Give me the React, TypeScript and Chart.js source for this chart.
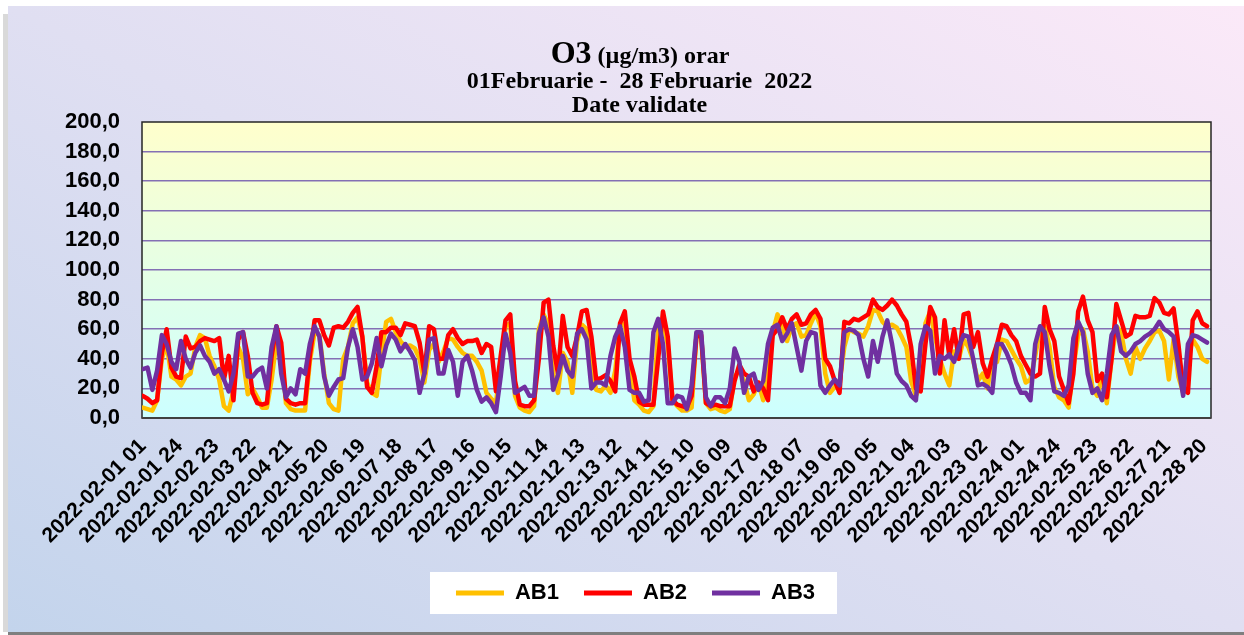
import React, { useEffect, useRef } from 'react';
import { Chart, registerables } from 'chart.js';

Chart.register(...registerables);

// ---------- data ----------
const SERIES_NAMES = ['AB1', 'AB2', 'AB3'];
const SERIES_COLORS = ['#FFC000', '#FF0000', '#7030A0'];
const TITLE_MAIN = 'O3';
const TITLE_UNIT = '(µg/m3) orar';
const TITLE_LINES = ['01Februarie -  28 Februarie  2022', 'Date validate'];

const HOURS_TOTAL = 672; // 28 days x 24 h
const STEP_HOURS = 3; // values read every 3 hours
const TICK_EVERY = 23;
const TICK_LABELS = [
  '2022-02-01 01', '2022-02-01 24', '2022-02-02 23', '2022-02-03 22', '2022-02-04 21',
  '2022-02-05 20', '2022-02-06 19', '2022-02-07 18', '2022-02-08 17', '2022-02-09 16',
  '2022-02-10 15', '2022-02-11 14', '2022-02-12 13', '2022-02-13 12', '2022-02-14 11',
  '2022-02-15 10', '2022-02-16 09', '2022-02-17 08', '2022-02-18 07', '2022-02-19 06',
  '2022-02-20 05', '2022-02-21 04', '2022-02-22 03', '2022-02-23 02', '2022-02-24 01',
  '2022-02-24 24', '2022-02-25 23', '2022-02-26 22', '2022-02-27 21', '2022-02-28 20',
];

const AB1 = [
  7, 6, 5, 12, 40, 50, 28, 26, 22, 28, 30, 48, 56, 54, 42, 35, 26, 8, 5, 18,
  48, 40, 16, 20, 14, 7, 7, 26, 52, 48, 10, 6, 5, 5, 5, 38, 58, 56, 30, 10,
  6, 5, 40, 48, 64, 68, 55, 24, 17, 15, 42, 65, 67, 58, 52, 48,
  49, 47, 40, 24, 46, 50, 38, 45, 54, 53, 48, 44, 42, 42, 38, 32, 17, 13, 10, 36,
  62, 64, 15, 7, 5, 4, 8, 60, 70, 63, 30, 17, 44, 38, 17, 52, 63, 60, 35, 19,
  18, 22, 17, 32, 62, 64, 35, 12, 9, 5, 4, 8, 60, 64, 50, 12, 8,
  5, 5, 7, 55, 55, 10, 6, 7, 5, 4, 6, 28, 32, 25, 12, 16, 24, 12, 35, 58,
  70, 62, 52, 62, 64, 55, 56, 64, 71, 62, 30, 17, 21, 24, 48, 60, 58, 57, 55, 62,
  73, 72, 65, 62, 63, 61, 55, 48, 25, 15, 22, 64, 72, 55, 40,
  30, 22, 45, 40, 53, 48, 39, 25, 30, 20, 40, 38, 53, 52, 46, 40, 35, 24, 26, 42,
  60, 62, 48, 21, 14, 12, 7, 34, 56, 60, 45, 20, 15, 28, 10, 40, 62, 58, 40, 30,
  48, 40, 47, 52, 58, 59, 52, 26, 53, 28, 17, 40, 53, 48, 40, 38,
];

const AB2 = [
  15, 13, 10, 12, 44, 60, 34, 28, 27, 55, 47, 48, 52, 54, 53, 52, 54, 26, 42, 12,
  53, 58, 42, 17, 10, 9, 10, 42, 62, 51, 13, 10, 9, 10, 10, 42, 66, 66, 56, 49,
  61, 62, 61, 65, 71, 75, 55, 21, 17, 35, 58, 58, 61, 61, 56, 64,
  63, 62, 51, 30, 62, 60, 40, 40, 56, 60, 54, 50, 52, 52, 53, 44, 50, 48, 18, 42,
  66, 70, 25, 9, 8, 8, 12, 40, 78, 80, 49, 30, 69, 48, 42, 55, 72, 73, 55, 26,
  27, 29, 25, 18, 64, 72, 40, 28, 11, 9, 9, 9, 40, 72, 55, 12, 9,
  8, 7, 15, 55, 56, 10, 8, 9, 8, 8, 8, 25, 36, 30, 28, 18, 24, 20, 12, 56,
  60, 68, 60, 67, 70, 63, 64, 70, 73, 67, 40, 35, 25, 17, 65, 64, 67, 66, 68, 70,
  80, 75, 73, 76, 80, 76, 70, 65, 48, 20, 18, 50, 75, 68, 30,
  66, 42, 60, 40, 70, 71, 48, 58, 37, 28, 40, 50, 63, 62, 56, 52, 42, 36, 30, 28,
  30, 75, 60, 52, 28, 19, 10, 30, 72, 82, 66, 58, 25, 30, 14, 40, 77, 66, 55, 57,
  69, 68, 68, 69, 81, 78, 71, 70, 74, 50, 20, 17, 66, 72, 64, 62,
];

const AB3 = [
  33, 34, 19, 32, 56, 50, 38, 33, 52, 40, 34, 44, 49, 42, 38, 30, 33, 26, 18, 30,
  57, 58, 28, 28, 32, 34, 20, 48, 62, 30, 14, 20, 16, 33, 30, 50, 62, 55, 28, 15,
  21, 26, 27, 48, 60, 48, 26, 28, 37, 54, 35, 49, 57, 53, 45, 50,
  45, 39, 17, 30, 53, 54, 30, 30, 46, 38, 15, 38, 42, 32, 19, 11, 14, 10, 4, 28,
  57, 44, 17, 19, 21, 15, 15, 57, 68, 55, 19, 29, 42, 32, 28, 57, 60, 53, 20, 24,
  24, 22, 42, 55, 62, 48, 19, 17, 17, 11, 12, 58, 67, 50, 10, 10, 15,
  14, 6, 22, 58, 58, 14, 8, 14, 14, 10, 20, 47, 38, 17, 28, 30, 19, 25, 50, 61,
  63, 52, 57, 64, 48, 32, 52, 58, 57, 22, 17, 22, 26, 22, 58, 60, 59, 56, 40, 28,
  52, 38, 55, 66, 50, 30, 25, 22, 15, 12, 50, 62, 59, 30, 42,
  40, 43, 38, 48, 56, 55, 40, 22, 23, 21, 17, 50, 50, 44, 36, 24, 17, 17, 12, 50,
  62, 58, 35, 18, 17, 15, 22, 54, 65, 58, 30, 17, 20, 12, 30, 56, 62, 45, 42, 45,
  50, 52, 55, 57, 60, 65, 60, 58, 55, 35, 15, 50, 56, 55, 53, 51,
];

const SERIES_VALUES = [AB1, AB2, AB3];
const Y_MIN = 0;
const Y_MAX = 200;
const Y_STEP = 20;

// ---------- styling ----------
const SANS = '"Liberation Sans", Arial, sans-serif';
const SERIF = '"Liberation Serif", "Times New Roman", serif';

const decorPlugin = {
  id: 'decor',
  afterLayout(chart: any) {
    const t = chart.titleBlock;
    if (t) {
      t.left += 4;
      t.right += 4;
    }
  },
  beforeDraw(chart: any) {
    const { ctx, chartArea: ca, width, height } = chart;
    ctx.save();
    ctx.fillStyle = '#ffffff';
    ctx.fillRect(0, 0, width, height);
    // left shadow strip
    ctx.fillStyle = '#d9d9d9';
    ctx.fillRect(3, 14, 5, height - 17);
    // frame gradient (bottom-left blue -> top-right pink)
    const fx = 8, fy = 6, fw = width - 8, fh = height - 3 - 6;
    const cx = fx + fw / 2, cy = fy + fh / 2;
    const L = Math.hypot(fw, fh);
    const dx = fh / L, dy = -fw / L;
    const k = (fw * fh) / L;
    const g = ctx.createLinearGradient(cx - k * dx, cy - k * dy, cx + k * dx, cy + k * dy);
    g.addColorStop(0, '#c3d4ec');
    g.addColorStop(0.5, '#e0dff2');
    g.addColorStop(1, '#fbe9f8');
    ctx.fillStyle = g;
    ctx.fillRect(fx, fy, fw, fh);
    // bottom dark shadow
    ctx.fillStyle = '#7f7f7f';
    ctx.fillRect(fx, height - 3, fw, 3);
    // plot area gradient
    const pg = ctx.createLinearGradient(0, ca.top, 0, ca.bottom);
    pg.addColorStop(0, '#ffffcc');
    pg.addColorStop(1, '#ccffff');
    ctx.fillStyle = pg;
    ctx.fillRect(ca.left, ca.top, ca.right - ca.left, ca.bottom - ca.top);
    // legend white box
    const lg = chart.legend;
    if (lg && lg.legendHitBoxes && lg.legendHitBoxes.length) {
      const hb = lg.legendHitBoxes;
      const lefts = hb.map((h: any) => h.left);
      const rights = hb.map((h: any) => h.left + h.width);
      const left = Math.min(...lefts) - 26;
      const right = Math.max(...rights) + 22;
      const cyl = hb[0].top + hb[0].height / 2;
      ctx.fillStyle = '#ffffff';
      ctx.fillRect(left, cyl - 21, right - left, 42);
    }
    ctx.restore();
  },
  beforeDatasetsDraw(chart: any) {
    const { ctx, chartArea: ca } = chart;
    ctx.save();
    ctx.strokeStyle = '#262626';
    ctx.lineWidth = 1.5;
    ctx.strokeRect(ca.left, ca.top, ca.right - ca.left, ca.bottom - ca.top);
    ctx.strokeStyle = '#404040';
    ctx.lineWidth = 2;
    ctx.beginPath();
    ctx.moveTo(ca.left, ca.bottom);
    ctx.lineTo(ca.right, ca.bottom);
    ctx.stroke();
    ctx.restore();
  },
  afterDraw(chart: any) {
    const { ctx } = chart;
    ctx.save();
    ctx.fillStyle = '#000000';
    ctx.textBaseline = 'alphabetic';
    ctx.textAlign = 'left';
    const f1 = `bold 32px ${SERIF}`;
    const f2 = `bold 24px ${SERIF}`;
    ctx.font = f1;
    const w1 = ctx.measureText(TITLE_MAIN).width;
    ctx.font = f2;
    const w2 = ctx.measureText(' ' + TITLE_UNIT).width;
    const x0 = 640 - (w1 + w2) / 2;
    ctx.font = f1;
    ctx.fillText(TITLE_MAIN, x0, 63);
    ctx.font = f2;
    ctx.fillText(' ' + TITLE_UNIT, x0 + w1, 63);
    ctx.restore();
  },
};

export default function App() {
  const canvasRef = useRef<HTMLCanvasElement | null>(null);

  useEffect(() => {
    const canvas = canvasRef.current;
    if (!canvas) return;

    const datasets = SERIES_NAMES.map((name, si) => ({
      label: name,
      data: SERIES_VALUES[si].map((v, i) => ({ x: i * STEP_HOURS, y: v })),
      borderColor: SERIES_COLORS[si],
      backgroundColor: SERIES_COLORS[si],
      borderWidth: 4.5,
      pointRadius: 0,
      pointHoverRadius: 0,
      tension: 0,
      borderJoinStyle: 'round' as const,
      borderCapStyle: 'round' as const,
      order: 3 - si,
    }));

    const chart = new Chart(canvas, {
      type: 'line',
      data: { datasets },
      plugins: [decorPlugin],
      options: {
        responsive: true,
        maintainAspectRatio: false,
        animation: false,
        devicePixelRatio: 1,
        layout: { padding: { left: 60, right: 33, top: 0, bottom: 21 } },
        plugins: {
          tooltip: { enabled: false },
          title: {
            display: true,
            text: TITLE_LINES,
            color: '#000000',
            font: { family: SERIF, size: 24, weight: 'bold', lineHeight: 1 },
            padding: { top: 70, bottom: 4 },
          },
          legend: {
            display: true,
            position: 'bottom',
            labels: {
              boxWidth: 48,
              boxHeight: 5,
              padding: 25,
              color: '#000000',
              font: { family: SANS, size: 22, weight: 'bold' },
              sort: (a: any, b: any) => a.datasetIndex - b.datasetIndex,
              generateLabels: (c: any) =>
                (Chart.defaults as any).plugins.legend.labels
                  .generateLabels(c)
                  .map((l: any) => ({ ...l, lineWidth: 0, fillStyle: l.strokeStyle })),
            },
          },
        },
        scales: {
          x: {
            type: 'linear',
            min: -0.5,
            max: HOURS_TOTAL - 0.5,
            grid: { display: false, drawTicks: false },
            border: { display: false },
            afterBuildTicks: (s: any) => {
              s.ticks = TICK_LABELS.map((_, i) => ({ value: i * TICK_EVERY }));
            },
            afterFit: (s: any) => {
              s.height = 139;
            },
            ticks: {
              autoSkip: false,
              minRotation: 45,
              maxRotation: 45,
              padding: 16,
              color: '#000000',
              font: { family: SANS, size: 21, weight: 'bold' },
              callback: (v: any) => TICK_LABELS[Math.round(Number(v) / TICK_EVERY)] ?? '',
            },
          },
          y: {
            min: Y_MIN,
            max: Y_MAX,
            border: { display: false },
            afterFit: (s: any) => {
              s.width = 82;
            },
            grid: {
              drawTicks: false,
              lineWidth: 1.5,
              color: (c: any) =>
                c.tick && (c.tick.value === Y_MIN || c.tick.value === Y_MAX)
                  ? 'rgba(0,0,0,0)'
                  : '#8470b4',
            },
            ticks: {
              stepSize: Y_STEP,
              padding: 22,
              color: '#000000',
              font: { family: SANS, size: 22, weight: 'bold' },
              callback: (v: any) => Number(v).toFixed(1).replace('.', ','),
            },
          },
        },
      } as any,
    });

    return () => chart.destroy();
  }, []);

  return (
    <div style={{ position: 'fixed', left: 0, top: 0, width: 1244, height: 635, background: '#ffffff' }}>
      <canvas ref={canvasRef} />
    </div>
  );
}
